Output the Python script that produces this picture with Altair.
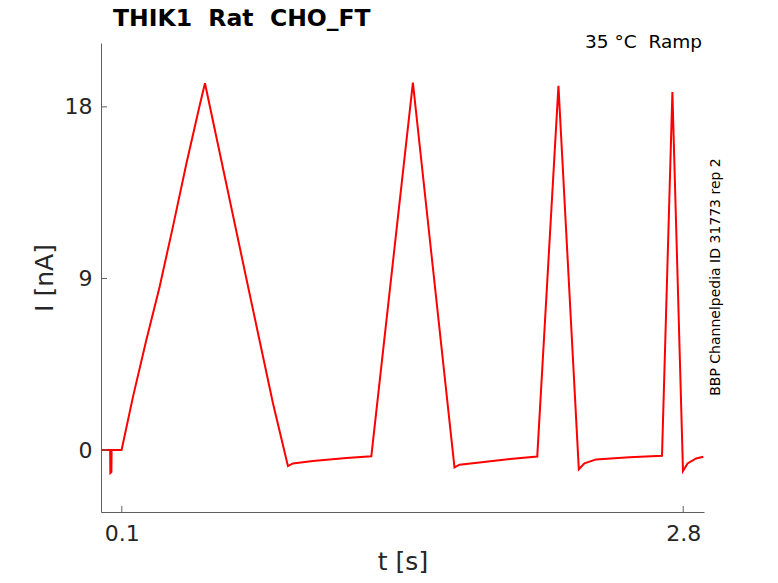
import altair as alt
import pandas as pd

# ---- data ----
t_s = [0.0, 0.044, 0.045, 0.050, 0.051, 0.099,
       0.154, 0.218, 0.282, 0.346, 0.411, 0.475, 0.500,
       0.600, 0.699, 0.827, 0.899,
       0.923, 1.019, 1.180, 1.300,
       1.500, 1.700,
       1.724, 1.820, 1.980, 2.098,
       2.200, 2.298,
       2.325, 2.381, 2.541, 2.698,
       2.748, 2.799,
       2.821, 2.862, 2.897]
i_nA = [0.0, 0.0, -1.2, -1.15, 0.0, 0.0,
        2.80, 5.77, 8.57, 11.72, 15.04, 18.1, 19.24,
        14.1, 9.0, 2.45, -0.84,
        -0.70, -0.58, -0.42, -0.33,
        19.27, -0.91,
        -0.77, -0.65, -0.46, -0.34,
        19.10, -1.01,
        -0.70, -0.49, -0.38, -0.30,
        18.78, -1.10,
        -0.70, -0.44, -0.35]
x_ticks = [0.1, 2.8]
y_ticks = [0, 9, 18]

title_text = "THIK1\u00a0\u00a0Rat\u00a0\u00a0CHO_FT"
cond_text = "35\u00a0°C\u00a0\u00a0Ramp"
side_text = "BBP Channelpedia ID 31773 rep 2"

W, H = 603, 469
FONT = "DejaVu Sans"
AX = "#5f5f5f"
TXT = "#262626"

df = pd.DataFrame({"t": t_s, "I": i_nA, "k": list(range(len(t_s)))})
xs = alt.Scale(domain=[0.0, 2.9], nice=False, zero=False)
ys = alt.Scale(domain=[-3.25, 21.35], nice=False, zero=False)

x_axis = alt.Axis(
    values=x_ticks, title="t [s]", format=".1f", grid=False, tickSize=0,
    domainColor=AX, labelFont=FONT, labelFontSize=22, labelColor=TXT,
    labelPadding=11, labelFlush=False, titleFont=FONT, titleFontSize=25,
    titleFontWeight="normal", titleColor=TXT, titlePadding=5)
y_axis = alt.Axis(
    values=y_ticks, title="I [nA]", format="d", grid=False, tickSize=0,
    domainColor=AX, labelFont=FONT, labelFontSize=22, labelColor=TXT,
    labelPadding=9, titleFont=FONT, titleFontSize=25,
    titleFontWeight="normal", titleColor=TXT, titlePadding=7)

line = alt.Chart(df).mark_line(color="#ff0000", strokeWidth=2, clip=True).encode(
    x=alt.X("t:Q", scale=xs, axis=x_axis),
    y=alt.Y("I:Q", scale=ys, axis=y_axis),
    order="k:Q",
)

ytick = alt.Chart(pd.DataFrame({"I": y_ticks})).mark_rule(color=AX, strokeWidth=1).encode(
    y=alt.Y("I:Q", scale=ys, axis=y_axis), x=alt.value(0), x2=alt.value(6))
xtick = alt.Chart(pd.DataFrame({"t": x_ticks})).mark_rule(color=AX, strokeWidth=1).encode(
    x=alt.X("t:Q", scale=xs, axis=x_axis), y=alt.value(H - 6), y2=alt.value(H))

title = alt.Chart(pd.DataFrame({"s": [title_text]})).mark_text(
    font=FONT, fontSize=23.5, fontWeight="bold", color="#000000", align="left",
    baseline="alphabetic").encode(text="s:N", x=alt.value(12), y=alt.value(-17))
cond = alt.Chart(pd.DataFrame({"s": [cond_text]})).mark_text(
    font=FONT, fontSize=18.5, color="#000000", align="right",
    baseline="alphabetic").encode(text="s:N", x=alt.value(601), y=alt.value(5))
side = alt.Chart(pd.DataFrame({"s": [side_text]})).mark_text(
    font=FONT, fontSize=14, color="#000000", align="center", baseline="middle",
    angle=270).encode(text="s:N", x=alt.value(615), y=alt.value(234))

chart = alt.layer(line, ytick, xtick, title, cond, side).properties(
    width=W, height=H,
    background="white",
    autosize=alt.AutoSizeParams(type="none"),
    padding={"left": 93, "top": 35, "right": 66, "bottom": 63},
).configure_view(strokeWidth=0)

chart.save("out.html", embed_options={"renderer": "svg", "actions": False})
